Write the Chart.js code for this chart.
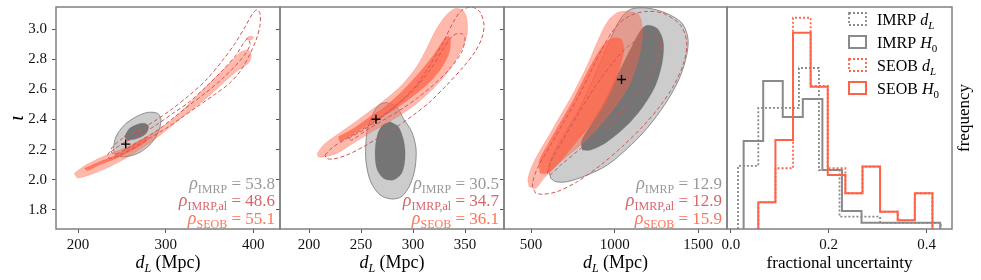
<!DOCTYPE html>
<html>
<head>
<meta charset="utf-8">
<script src="https://cdn.jsdelivr.net/npm/chart.js@4.4.1/dist/chart.umd.min.js"></script>
<style>
  body { margin: 0; background: #fff; }
  #wrap { position: relative; width: 981px; height: 280px; }
  .pane { position: absolute; left: 0; top: 0; width: 981px; height: 280px; }
</style>
</head>
<body>
<div id="wrap">
  <div class="pane"><canvas id="c0"></canvas></div>
  <div class="pane"><canvas id="c1"></canvas></div>
  <div class="pane"><canvas id="c2"></canvas></div>
  <div class="pane"><canvas id="c3"></canvas></div>
</div>
<script>
// ---- data: [d_L (Mpc), iota] contour outlines ----
const p1ImrpOuter = [[240.3,2.208],[243.3,2.286],[252.8,2.363],[266.2,2.418],[279.5,2.447],[290.9,2.440],[294.7,2.396],[290.9,2.308],[281.4,2.230],[268.1,2.175],[252.8,2.153],[242.6,2.164]];
const p1ImrpInner = [[252.8,2.286],[258.6,2.341],[268.1,2.369],[276.8,2.374],[280.6,2.352],[277.6,2.308],[268.1,2.275],[256.6,2.264]];
const p1SeobOuter = [[195.8,2.043],[209.1,2.098],[228.1,2.153],[247.1,2.197],[266.2,2.248],[285.2,2.308],[304.2,2.385],[323.2,2.484],[342.2,2.595],[361.2,2.705],[376.4,2.793],[385.9,2.848],[393.5,2.859],[397.3,2.837],[395.4,2.782],[380.2,2.716],[365.0,2.639],[346.0,2.539],[327.0,2.451],[308.0,2.363],[289.0,2.275],[270.0,2.197],[250.9,2.131],[231.9,2.076],[212.9,2.032],[199.6,2.014]];
const p1SeobIsland = [[391.6,2.936],[395.4,2.952],[400.0,2.947],[398.5,2.930],[393.5,2.928]];
const p1SeobInner = [[207.2,2.076],[224.3,2.120],[243.3,2.164],[262.4,2.231],[275.7,2.275],[280.6,2.286],[277.6,2.253],[262.4,2.197],[243.3,2.142],[224.3,2.098],[211.0,2.061]];
const p1AlOuter = [[233.8,2.164],[239.5,2.219],[250.9,2.275],[270.0,2.330],[289.0,2.396],[308.0,2.473],[327.0,2.561],[346.0,2.661],[365.0,2.793],[380.2,2.914],[391.6,3.025],[399.2,3.102],[404.2,3.128],[407.6,3.102],[407.6,3.025],[403.0,2.925],[395.4,2.826],[385.9,2.727],[372.6,2.639],[357.4,2.572],[338.4,2.495],[319.4,2.418],[300.4,2.341],[281.4,2.275],[262.4,2.208],[247.1,2.160],[235.7,2.142]];
const p1AlInner = [[237.6,2.186],[250.9,2.241],[270.0,2.297],[289.0,2.363],[308.0,2.440],[327.0,2.517],[346.0,2.617],[365.0,2.727],[380.2,2.826],[389.7,2.914],[393.5,2.936],[396.2,2.903],[392.4,2.848],[380.2,2.760],[365.0,2.672],[346.0,2.579],[327.0,2.495],[308.0,2.407],[289.0,2.323],[270.0,2.257],[254.8,2.204],[241.4,2.169]];

const p2ImrpOuter = [[274.7,2.513],[284.3,2.484],[290.7,2.407],[298.7,2.319],[302.9,2.208],[301.9,2.076],[297.1,1.966],[289.1,1.889],[279.5,1.873],[268.3,1.900],[259.3,1.988],[254.8,2.120],[254.8,2.253],[257.0,2.363],[263.5,2.462],[268.3,2.500]];
const p2ImrpInner = [[277.9,2.385],[285.9,2.352],[291.3,2.253],[292.3,2.142],[289.1,2.043],[281.1,1.999],[271.5,2.010],[265.1,2.076],[263.5,2.186],[265.7,2.297],[270.8,2.363]];
const p2SeobOuter = [[208.0,2.175],[213.8,2.230],[226.6,2.297],[242.6,2.374],[258.7,2.456],[274.7,2.539],[290.7,2.639],[303.5,2.749],[313.1,2.870],[322.8,3.003],[332.4,3.095],[340.4,3.135],[347.8,3.124],[351.6,3.069],[352.2,2.981],[350.0,2.914],[342.0,2.804],[332.4,2.705],[319.5,2.605],[303.5,2.506],[287.5,2.429],[271.5,2.363],[255.4,2.297],[239.4,2.230],[226.6,2.175],[215.4,2.153],[209.0,2.153]];
const p2SeobInner = [[228.2,2.286],[242.6,2.341],[258.7,2.418],[274.7,2.495],[290.7,2.595],[306.7,2.716],[319.5,2.826],[329.2,2.925],[334.0,2.954],[336.2,2.914],[334.0,2.826],[326.0,2.727],[313.1,2.628],[297.1,2.539],[281.1,2.462],[265.1,2.396],[249.0,2.330],[236.2,2.275],[229.8,2.253]];
const p2AlOuter = [[215.4,2.164],[223.4,2.219],[239.4,2.286],[255.4,2.352],[271.5,2.429],[287.5,2.517],[303.5,2.628],[316.3,2.760],[329.2,2.914],[338.8,3.047],[346.8,3.124],[356.4,3.146],[364.4,3.113],[368.3,3.025],[366.0,2.936],[359.6,2.848],[348.4,2.749],[332.4,2.628],[316.3,2.517],[300.3,2.429],[284.3,2.352],[268.3,2.286],[252.2,2.219],[236.2,2.164],[223.4,2.138],[217.0,2.142]];
const p2AlInner = [[237.8,2.275],[252.2,2.330],[268.3,2.407],[284.3,2.495],[300.3,2.595],[316.3,2.727],[329.2,2.870],[338.8,2.958],[346.8,2.969],[350.0,2.936],[346.8,2.848],[335.6,2.738],[319.5,2.628],[303.5,2.539],[287.5,2.462],[271.5,2.396],[255.4,2.330],[241.0,2.264]];

const p3ImrpOuter = [[617.5,2.010],[607.6,2.076],[637.5,2.186],[707.2,2.319],[776.9,2.451],[846.7,2.605],[916.4,2.782],[976.2,2.936],[1035.9,3.069],[1095.7,3.131],[1195.3,3.139],[1314.8,3.102],[1404.5,3.036],[1438.4,2.936],[1430.4,2.826],[1394.6,2.694],[1334.8,2.561],[1255.1,2.429],[1175.4,2.319],[1075.8,2.208],[956.3,2.098],[836.7,2.032],[717.2,1.988],[647.4,1.988]];
const p3ImrpInner = [[806.8,2.197],[800.8,2.253],[856.6,2.363],[936.3,2.517],[1016.0,2.694],[1095.7,2.870],[1155.5,2.992],[1195.3,3.025],[1255.1,3.003],[1290.9,2.914],[1284.9,2.782],[1245.1,2.628],[1175.4,2.495],[1075.8,2.363],[956.3,2.253],[856.6,2.197]];
const p3SeobOuter = [[488.0,1.955],[482.1,2.010],[517.9,2.120],[597.6,2.275],[677.3,2.429],[757.0,2.583],[836.7,2.760],[896.5,2.914],[956.3,3.047],[1016.0,3.108],[1085.7,3.117],[1145.5,3.091],[1165.4,3.003],[1155.5,2.870],[1125.6,2.738],[1075.8,2.605],[996.1,2.473],[896.5,2.341],[796.9,2.231],[677.3,2.120],[577.7,2.010],[527.9,1.944]];
const p3SeobInner = [[553.8,2.043],[547.8,2.120],[597.6,2.231],[677.3,2.385],[757.0,2.539],[836.7,2.716],[916.4,2.870],[976.2,2.936],[1035.9,2.936],[1055.8,2.870],[1035.9,2.760],[996.1,2.628],[936.3,2.495],[856.6,2.363],[757.0,2.231],[657.4,2.098],[597.6,2.043]];
const p3AlOuter = [[527.9,1.911],[508.0,1.966],[537.9,2.076],[617.5,2.231],[697.2,2.385],[776.9,2.539],[856.6,2.716],[936.3,2.892],[1016.0,3.025],[1095.7,3.091],[1195.3,3.117],[1294.9,3.102],[1394.6,3.025],[1430.4,2.914],[1414.5,2.782],[1354.7,2.628],[1275.0,2.495],[1175.4,2.363],[1055.8,2.231],[916.4,2.098],[776.9,1.988],[657.4,1.922],[567.7,1.904]];
const p3AlInner = [[597.6,2.043],[617.5,2.120],[697.2,2.275],[776.9,2.429],[876.5,2.605],[976.2,2.760],[1075.8,2.881],[1175.4,2.947],[1255.1,2.954],[1275.0,2.903],[1245.1,2.782],[1175.4,2.628],[1075.8,2.495],[936.3,2.341],[796.9,2.208],[677.3,2.098],[617.5,2.036]];

// injected values (black +) and SNR labels
const injDL = [254.4, 264.4, 1041];
const injIota = [2.237, 2.402, 2.665];
const rhoImrp = [53.8, 30.5, 12.9];
const rhoImrpAl = [48.6, 34.7, 12.9];
const rhoSeob = [55.1, 36.1, 15.9];

// tick labels
const iotaTicks = [1.8, 2.0, 2.2, 2.4, 2.6, 2.8, 3.0];
const dlTicks = [[200, 300, 400], [200, 250, 300, 350], [500, 1000, 1500]];
const fracTicks = [0.0, 0.2, 0.4];

// histograms of fractional uncertainty: bin edges + heights
const imrpDlEdges = [0.0145, 0.056, 0.097, 0.139, 0.180, 0.222, 0.263, 0.305, 0.346, 0.388, 0.429];
const imrpDlFreq = [2.70, 5.18, 5.18, 6.89, 2.52, 0.53, 0.53, 0.26, 0.26, 0.26];
const imrpH0Edges = [0.026, 0.066, 0.106, 0.147, 0.187, 0.227, 0.267, 0.307, 0.348, 0.388, 0.428];
const imrpH0Freq = [3.77, 6.33, 4.79, 5.56, 2.52, 0.77, 0.27, 0.27, 0.27, 0.27];
const seobEdges = [0.056, 0.091, 0.127, 0.163, 0.198, 0.234, 0.269, 0.305, 0.341, 0.376, 0.412];
const seobDlFreq = [1.14, 2.60, 9.04, 6.12, 2.60, 1.53, 2.67, 0.74, 0.37, 1.53];
const seobH0Freq = [1.14, 3.81, 8.40, 6.09, 2.31, 1.53, 2.67, 0.74, 0.37, 1.53];

// ---- layout / style ----
const FONT = "'Liberation Serif', 'Times New Roman', serif";
const paneLeft = [56, 280, 504, 727];
const paneRight = [280, 504, 727, 952];
const TOMATO = '255,99,71';

function fnt(p) { return (p.it ? 'italic ' : '') + p.size + 'px ' + FONT; }
function T(t, size) { return {t: t, size: size}; }
function I(t, size) { return {t: t, size: size, it: true}; }
function S(t, size, it) { return {t: t, size: size, it: !!it, dy: 4}; }

function rich(ctx, parts, x, y, align, color, rot, base) {
  ctx.save();
  ctx.translate(x, y);
  if (rot) ctx.rotate(rot);
  var w = 0;
  parts.forEach(function(p) { ctx.font = fnt(p); p.w = ctx.measureText(p.t).width; w += p.w; });
  var cx = align === 'right' ? -w : (align === 'center' ? -w / 2 : 0);
  ctx.fillStyle = color;
  ctx.textAlign = 'left';
  ctx.textBaseline = base || 'alphabetic';
  parts.forEach(function(p) { ctx.font = fnt(p); ctx.fillText(p.t, cx, p.dy || 0); cx += p.w; });
  ctx.restore();
}

function pts(arr, close) {
  var out = arr.map(function(p) { return {x: p[0], y: p[1]}; });
  if (close) out.push({x: arr[0][0], y: arr[0][1]});
  return out;
}

function stepOutline(edges, freq) {
  var out = [{x: edges[0], y: 0}];
  for (var i = 0; i < freq.length; i++) {
    out.push({x: edges[i], y: freq[i]});
    out.push({x: edges[i + 1], y: freq[i]});
  }
  out.push({x: edges[edges.length - 1], y: 0});
  return out;
}

function frame(chart) {
  var a = chart.chartArea, ctx = chart.ctx;
  ctx.save();
  ctx.strokeStyle = '#808080';
  ctx.lineWidth = 1.5;
  ctx.strokeRect(a.left, a.top, a.right - a.left, a.bottom - a.top);
  ctx.restore();
}

// keep the plot box exactly where the layout padding puts it
function noEdgePad(s) { s.paddingTop = 0; s.paddingBottom = 0; s.paddingLeft = 0; s.paddingRight = 0; }

function fillSet(data, bg, border, bw) {
  return {data: pts(data, true), showLine: true, fill: 'shape', backgroundColor: bg,
          borderColor: border, borderWidth: bw, pointRadius: 0, tension: 0.3};
}
function dashSet(data) {
  return {data: pts(data, true), showLine: true, fill: false, borderColor: 'rgb(205,85,88)',
          borderWidth: 1, borderDash: [4, 2.5], pointRadius: 0, tension: 0.3};
}

const allContours = [
  {imrpO: p1ImrpOuter, imrpI: p1ImrpInner, seobO: [p1SeobOuter, p1SeobIsland], seobI: p1SeobInner, alO: p1AlOuter, alI: p1AlInner, xmin: 174.9, xmax: 430.4},
  {imrpO: p2ImrpOuter, imrpI: p2ImrpInner, seobO: [p2SeobOuter], seobI: p2SeobInner, alO: p2AlOuter, alI: p2AlInner, xmin: 172.1, xmax: 387.5},
  {imrpO: p3ImrpOuter, imrpI: p3ImrpInner, seobO: [p3SeobOuter], seobI: p3SeobInner, alO: p3AlOuter, alI: p3AlInner, xmin: 338.6, xmax: 1671.5}
];

function contourChart(k) {
  var c = allContours[k];
  var yW = k === 0 ? 50 : 5;
  var sets = [];
  sets.push(fillSet(c.imrpO, 'rgba(128,128,128,0.4)', 'rgba(120,120,120,0.8)', 1));
  sets.push(fillSet(c.imrpI, 'rgba(80,80,80,0.7)', 'rgba(80,80,80,0.3)', 0.5));
  c.seobO.forEach(function(s) { sets.push(fillSet(s, 'rgba(' + TOMATO + ',0.45)', 'rgba(' + TOMATO + ',0.35)', 0.8)); });
  sets.push(fillSet(c.seobI, 'rgba(' + TOMATO + ',0.75)', 'rgba(' + TOMATO + ',0.3)', 0.5));
  sets.push(dashSet(c.alO));
  sets.push(dashSet(c.alI));
  sets.push({data: [{x: injDL[k], y: injIota[k]}], pointStyle: 'cross', pointRadius: 4.5,
             borderColor: '#000', borderWidth: 1.4});
  sets.forEach(function(s, i) { s.order = 100 - i; });

  var decor = {
    id: 'decor' + k,
    afterDraw: function(chart) {
      var a = chart.chartArea, ctx = chart.ctx;
      frame(chart);
      var rx = a.right - 5;
      rich(ctx, [I('\u03c1', 18), S('IMRP', 12), T(' = ' + rhoImrp[k].toFixed(1), 17)], rx, a.bottom - 40.5, 'right', '#999999');
      rich(ctx, [I('\u03c1', 18), S('IMRP,al', 12), T(' = ' + rhoImrpAl[k].toFixed(1), 17)], rx, a.bottom - 23, 'right', '#d8666b');
      rich(ctx, [I('\u03c1', 18), S('SEOB', 12), T(' = ' + rhoSeob[k].toFixed(1), 17)], rx, a.bottom - 5.5, 'right', '#ff7359');
      rich(ctx, [I('d', 18), S('L', 12, true), T(' (Mpc)', 18)], (a.left + a.right) / 2, 268, 'center', '#000');
      if (k === 0) rich(ctx, [I('\u03b9', 21)], 17, (a.top + a.bottom) / 2, 'center', '#000', -Math.PI / 2, 'middle');
    }
  };

  return new Chart(document.getElementById('c' + k), {
    type: 'scatter',
    data: {datasets: sets},
    options: {
      responsive: true, maintainAspectRatio: false, animation: false, events: [],
      layout: {padding: {left: paneLeft[k] - yW, right: 981 - paneRight[k], top: 7, bottom: 0}},
      plugins: {legend: {display: false}, tooltip: {enabled: false}},
      scales: {
        x: {
          type: 'linear', min: c.xmin, max: c.xmax,
          afterBuildTicks: function(s) { s.ticks = dlTicks[k].map(function(v) { return {value: v}; }); },
          afterFit: function(s) { s.height = 51; noEdgePad(s); },
          ticks: {font: {family: FONT, size: 15}, color: '#111', padding: 3, maxRotation: 0, autoSkip: false,
                  callback: function(v) { return String(v); }},
          grid: {drawOnChartArea: false, drawTicks: true, tickLength: 4, color: '#555'},
          border: {display: false}
        },
        y: {
          type: 'linear', min: 1.674, max: 3.146,
          afterBuildTicks: function(s) { s.ticks = iotaTicks.map(function(v) { return {value: v}; }); },
          afterFit: function(s) { s.width = yW; noEdgePad(s); },
          ticks: {display: k === 0, font: {family: FONT, size: 15}, color: '#111', padding: 5, autoSkip: false,
                  callback: function(v) { return v.toFixed(1); }},
          grid: {drawOnChartArea: false, drawTicks: true, tickLength: 4, color: '#555'},
          border: {display: false}
        }
      }
    },
    plugins: [decor]
  });
}

contourChart(0);
contourChart(1);
contourChart(2);

// ---- histogram panel ----
const GRAY = '#8a8a8a';
const RED = 'rgb(' + TOMATO + ')';
const histSets = [
  {label: ['IMRP ', 'd', 'L'], data: stepOutline(imrpDlEdges, imrpDlFreq), borderColor: GRAY, borderDash: [2, 2], borderWidth: 1.8},
  {label: ['IMRP ', 'H', '0'], data: stepOutline(imrpH0Edges, imrpH0Freq), borderColor: GRAY, borderWidth: 2},
  {label: ['SEOB ', 'd', 'L'], data: stepOutline(seobEdges, seobDlFreq), borderColor: RED, borderDash: [2, 2], borderWidth: 1.8},
  {label: ['SEOB ', 'H', '0'], data: stepOutline(seobEdges, seobH0Freq), borderColor: RED, borderWidth: 2}
];
histSets.forEach(function(s, i) {
  s.showLine = true; s.fill = false; s.pointRadius = 0; s.tension = 0; s.order = 10 - i;
});

const histDecor = {
  id: 'histDecor',
  afterDraw: function(chart) {
    var a = chart.chartArea, ctx = chart.ctx;
    frame(chart);
    histSets.forEach(function(s, i) {
      var cy = 19 + i * 23;
      ctx.save();
      ctx.strokeStyle = s.borderColor;
      ctx.lineWidth = s.borderWidth;
      ctx.setLineDash(s.borderDash || []);
      ctx.strokeRect(849, cy - 6, 17, 12);
      ctx.restore();
      var sub = s.label[2] === '0' ? S('0', 11) : S('L', 11, true);
      rich(ctx, [T(s.label[0], 16), I(s.label[1], 16), sub], 877, cy + 5.5, 'left', '#000');
    });
    rich(ctx, [T('fractional uncertainty', 17)], (a.left + a.right) / 2, 268, 'center', '#000');
    rich(ctx, [T('frequency', 17)], 965, (a.top + a.bottom) / 2, 'center', '#000', -Math.PI / 2, 'middle');
  }
};

new Chart(document.getElementById('c3'), {
  type: 'scatter',
  data: {datasets: histSets},
  options: {
    responsive: true, maintainAspectRatio: false, animation: false, events: [],
    layout: {padding: {left: paneLeft[3], right: 981 - paneRight[3], top: 7, bottom: 0}},
    plugins: {legend: {display: false}, tooltip: {enabled: false}},
    scales: {
      x: {
        type: 'linear', min: -0.008, max: 0.452,
        afterBuildTicks: function(s) { s.ticks = fracTicks.map(function(v) { return {value: v}; }); },
        afterFit: function(s) { s.height = 51; noEdgePad(s); },
        ticks: {font: {family: FONT, size: 15}, color: '#111', padding: 3, maxRotation: 0, autoSkip: false,
                callback: function(v) { return v.toFixed(1); }},
        grid: {drawOnChartArea: false, drawTicks: true, tickLength: 4, color: '#555'},
        border: {display: false}
      },
      y: {type: 'linear', display: false, min: 0, max: 9.5}
    }
  },
  plugins: [histDecor]
});
</script>
</body>
</html>
